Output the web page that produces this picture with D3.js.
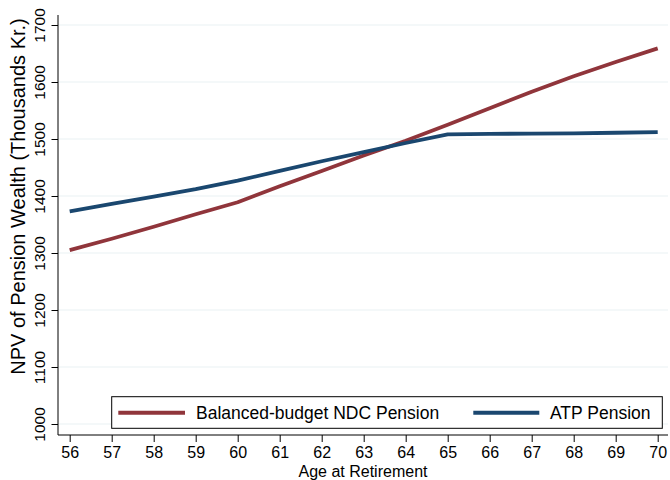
<!DOCTYPE html>
<html><head><meta charset="utf-8">
<script src="https://cdn.jsdelivr.net/npm/d3@7"></script>
<style>body{margin:0;background:#fff}svg{display:block}text{font-family:"Liberation Sans",Arial,sans-serif;fill:#000}</style>
</head><body><svg id="c" width="670" height="480"></svg>
<script>
const ages = [56,57,58,59,60,61,62,63,64,65,66,67,68,69,70];
const ndc = [1305,1325,1346,1368,1389,1417,1444,1471,1497,1525,1554,1583,1610,1635,1659];
const atp = [1373,1386,1399,1412,1427,1444,1461,1477,1493,1508,1509,1509.5,1510,1511,1512];
const yTicks = [1000,1100,1200,1300,1400,1500,1600,1700];
const seriesNames = ["Balanced-budget NDC Pension","ATP Pension"];
const colors = ["#90353B","#1A476F"];

const svg = d3.select("#c");
const x = d3.scaleLinear().domain([56,70]).range([69.7,657.7]);
const y = d3.scaleLinear().domain([1000,1700]).range([424,25]);
const L = 58, R = 668, T = 15, B = 435;

// gridlines
svg.append("g").selectAll("line").data(yTicks).join("line")
  .attr("x1",L).attr("x2",R).attr("y1",d=>y(d)).attr("y2",d=>y(d))
  .attr("stroke","#EAF2F3").attr("stroke-width",1.2);

// y axis
const ya = svg.append("g").attr("transform",`translate(${L},0)`)
  .call(d3.axisLeft(y).tickValues(yTicks).tickSize(6.5).tickFormat(d3.format("d")));
ya.select(".domain").attr("d",`M0,${T}V${B}`).attr("stroke","#000");
ya.selectAll(".tick line").attr("stroke","#000");
ya.selectAll(".tick text").attr("font-size",15.5).attr("font-family","Liberation Sans, Arial, sans-serif")
  .attr("x",0).attr("y",0).attr("dy",null).attr("text-anchor","middle")
  .attr("transform","translate(-13,0) rotate(-90)");

// x axis
const xa = svg.append("g").attr("transform",`translate(0,${B})`)
  .call(d3.axisBottom(x).tickValues(ages).tickSize(7).tickFormat(d3.format("d")));
xa.select(".domain").attr("d",`M${L},0H${R}`).attr("stroke","#000");
xa.selectAll(".tick line").attr("stroke","#000");
xa.selectAll(".tick text").attr("font-size",16).attr("font-family","Liberation Sans, Arial, sans-serif")
  .attr("y",23).attr("dy",null);

// titles
svg.append("text").attr("x",363).attr("y",476.8).attr("text-anchor","middle").attr("font-size",16).text("Age at Retirement");
svg.append("text").attr("transform",`translate(25,196.5) rotate(-90)`).attr("text-anchor","middle").attr("font-size",20)
  .text("NPV of Pension Wealth (Thousands Kr.)");

// lines
const line = d3.line().x((d,i)=>x(ages[i])).y(d=>y(d));
[ndc,atp].forEach((s,k)=>{
  svg.append("path").datum(s).attr("d",line).attr("fill","none")
    .attr("stroke",colors[k]).attr("stroke-width",3.8).attr("stroke-linejoin","round");
});

// legend
const lg = svg.append("g");
lg.append("rect").attr("x",111.7).attr("y",396.7).attr("width",550.6).attr("height",31.6)
  .attr("fill","#fff").attr("stroke","#000").attr("stroke-width",1);
const lx = [[118.3,185,196],[473.3,539.3,550]];
seriesNames.forEach((n,k)=>{
  lg.append("line").attr("x1",lx[k][0]).attr("x2",lx[k][1]).attr("y1",412.7).attr("y2",412.7)
    .attr("stroke",colors[k]).attr("stroke-width",4);
  lg.append("text").attr("x",lx[k][2]).attr("y",419.3).attr("font-size",17.5).text(n);
});
</script></body></html>
